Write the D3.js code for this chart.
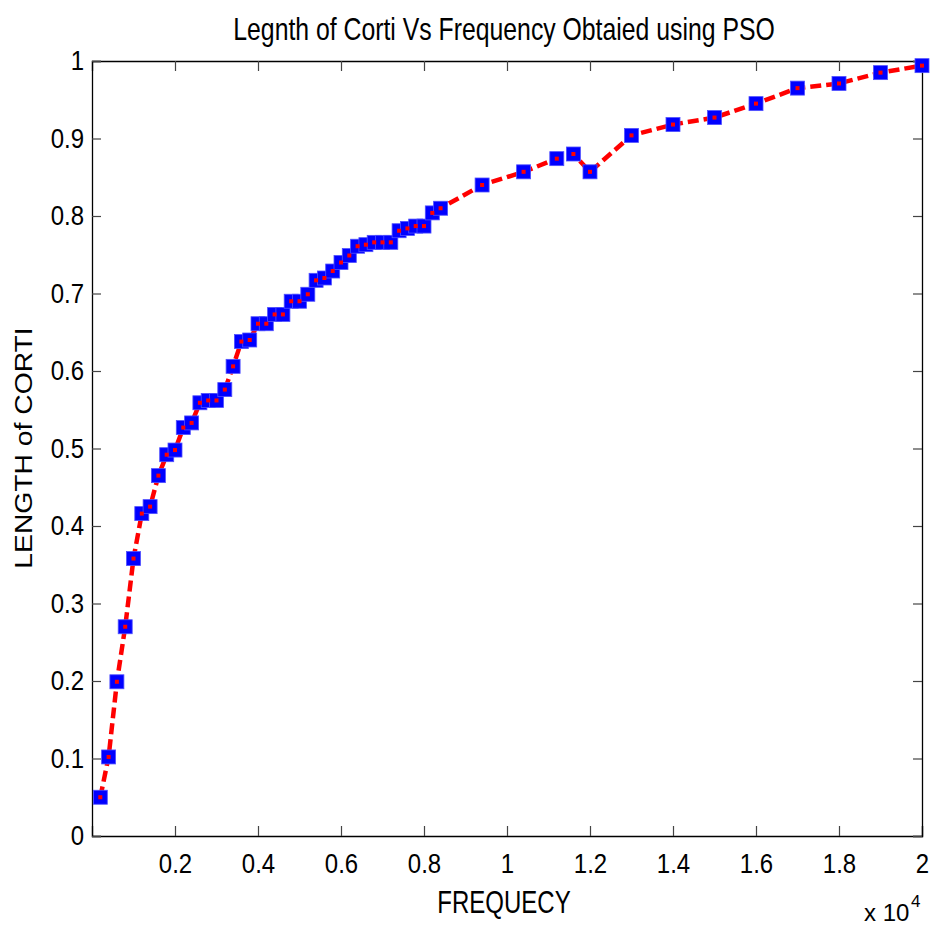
<!DOCTYPE html>
<meta charset="utf-8">
<style>
body { margin: 0; background: #fff; }
svg { font-family: "Liberation Sans", Arial, sans-serif; }
.axis path { stroke: #000; stroke-width: 1.3; fill: none; }
.axis line { stroke: #444; stroke-width: 1.2; }
.axis text { font-size: 24px; fill: #000; font-family: "Liberation Sans", Arial, sans-serif; }
</style>
<body>
<script src="https://d3js.org/d3.v7.min.js"></script>
<script>

// data (frequency in Hz, length of corti normalised)
var freq = [200, 400, 600, 800, 1000, 1200, 1400, 1600, 1800, 2000,
            2200, 2400, 2600, 2800, 3000, 3200, 3400, 3600, 3800, 4000,
            4200, 4400, 4600, 4800, 5000, 5200, 5400, 5600, 5800, 6000,
            6200, 6400, 6600, 6800, 7000, 7200, 7400, 7600, 7800, 8000,
            8200, 8400, 9400, 10400, 11200, 11600, 12000, 13000, 14000, 15000,
            16000, 17000, 18000, 19000, 20000];
var lengthCorti = [0.050, 0.102, 0.199, 0.270, 0.358, 0.416, 0.425, 0.465, 0.492, 0.498,
                   0.527, 0.533, 0.559, 0.562, 0.562, 0.576, 0.606, 0.638, 0.640, 0.661,
                   0.661, 0.673, 0.673, 0.690, 0.690, 0.699, 0.717, 0.720, 0.729, 0.740,
                   0.749, 0.761, 0.763, 0.766, 0.766, 0.766, 0.781, 0.784, 0.787, 0.787,
                   0.804, 0.810, 0.840, 0.857, 0.874, 0.880, 0.857, 0.904, 0.918, 0.927,
                   0.945, 0.965, 0.971, 0.985, 0.994];

var xTicks = [2000, 4000, 6000, 8000, 10000, 12000, 14000, 16000, 18000, 20000];
var xTickLabels = ["0.2", "0.4", "0.6", "0.8", "1", "1.2", "1.4", "1.6", "1.8", "2"];
var yTicks = [0, 0.1, 0.2, 0.3, 0.4, 0.5, 0.6, 0.7, 0.8, 0.9, 1];
var yTickLabels = ["0", "0.1", "0.2", "0.3", "0.4", "0.5", "0.6", "0.7", "0.8", "0.9", "1"];

var margin = {top: 61, right: 9, bottom: 91, left: 92},
    width = 931 - margin.left - margin.right,
    height = 927 - margin.top - margin.bottom;

var x = d3.scaleLinear().domain([0, 20000]).range([0, width]);
var y = d3.scaleLinear().domain([0, 1]).range([height, 0]);

var svg = d3.select("body").append("svg")
    .attr("width", 931)
    .attr("height", 927);

var g = svg.append("g")
    .attr("transform", "translate(" + margin.left + "," + margin.top + ")");

// box with inward ticks on all four sides (matlab style)
var xAx = g.append("g")
    .attr("class", "axis")
    .attr("transform", "translate(0," + height + ")")
    .call(d3.axisBottom(x).tickValues(xTicks).tickSize(-10).tickPadding(16)
        .tickFormat(function(d, i) { return xTickLabels[i]; }));

g.append("g")
    .attr("class", "axis")
    .call(d3.axisTop(x).tickValues(xTicks).tickSize(-10).tickFormat(""));

var yAx = g.append("g")
    .attr("class", "axis")
    .call(d3.axisLeft(y).tickValues(yTicks).tickSize(-9).tickPadding(8)
        .tickFormat(function(d, i) { return yTickLabels[i]; }));

g.append("g")
    .attr("class", "axis")
    .attr("transform", "translate(" + width + ",0)")
    .call(d3.axisRight(y).tickValues(yTicks).tickSize(-9).tickFormat(""));

// tick labels a touch taller, like the reference
xAx.selectAll("text").attr("transform", "scale(1,1.12)");
yAx.selectAll("text").attr("transform", "scale(1,1.12)");

var pts = freq.map(function(f, i) { return {f: f, v: lengthCorti[i]}; });

var line = d3.line()
    .x(function(d) { return x(d.f); })
    .y(function(d) { return y(d.v); });

g.append("path")
    .datum(pts)
    .attr("d", line)
    .attr("fill", "none")
    .attr("stroke", "#ff0000")
    .attr("stroke-width", 4.5)
    .attr("stroke-dasharray", "11,5");

// blue square markers
g.selectAll(".mk")
    .data(pts)
  .enter().append("rect")
    .attr("class", "mk")
    .attr("x", function(d) { return x(d.f) - 7; })
    .attr("y", function(d) { return y(d.v) - 7; })
    .attr("width", 14)
    .attr("height", 14)
    .attr("fill", "#0000ff")
    .attr("stroke", "#5050ff")
    .attr("stroke-width", 0.8);

// red centre dot
g.selectAll(".dot")
    .data(pts)
  .enter().append("rect")
    .attr("class", "dot")
    .attr("x", function(d) { return x(d.f) - 2; })
    .attr("y", function(d) { return y(d.v) - 2; })
    .attr("width", 4)
    .attr("height", 4)
    .attr("fill", "#ff0000");

// title and labels (the picture is stretched a bit vertically)
svg.append("text")
    .attr("transform", "translate(504,40) scale(1,1.23)")
    .attr("text-anchor", "middle")
    .style("font-size", "24.8px")
    .text("Legnth of Corti Vs Frequency Obtaied using PSO");

svg.append("text")
    .attr("transform", "translate(504,913) scale(1,1.28)")
    .attr("text-anchor", "middle")
    .style("font-size", "24px")
    .text("FREQUECY");

svg.append("text")
    .attr("transform", "translate(32,448) rotate(-90) scale(1.23,1)")
    .attr("text-anchor", "middle")
    .style("font-size", "23px")
    .text("LENGTH of CORTI");

svg.append("text")
    .attr("x", 864)
    .attr("y", 921)
    .style("font-size", "24px")
    .text("x 10");

svg.append("text")
    .attr("x", 911)
    .attr("y", 907)
    .style("font-size", "17px")
    .text("4");

</script>
</body>
